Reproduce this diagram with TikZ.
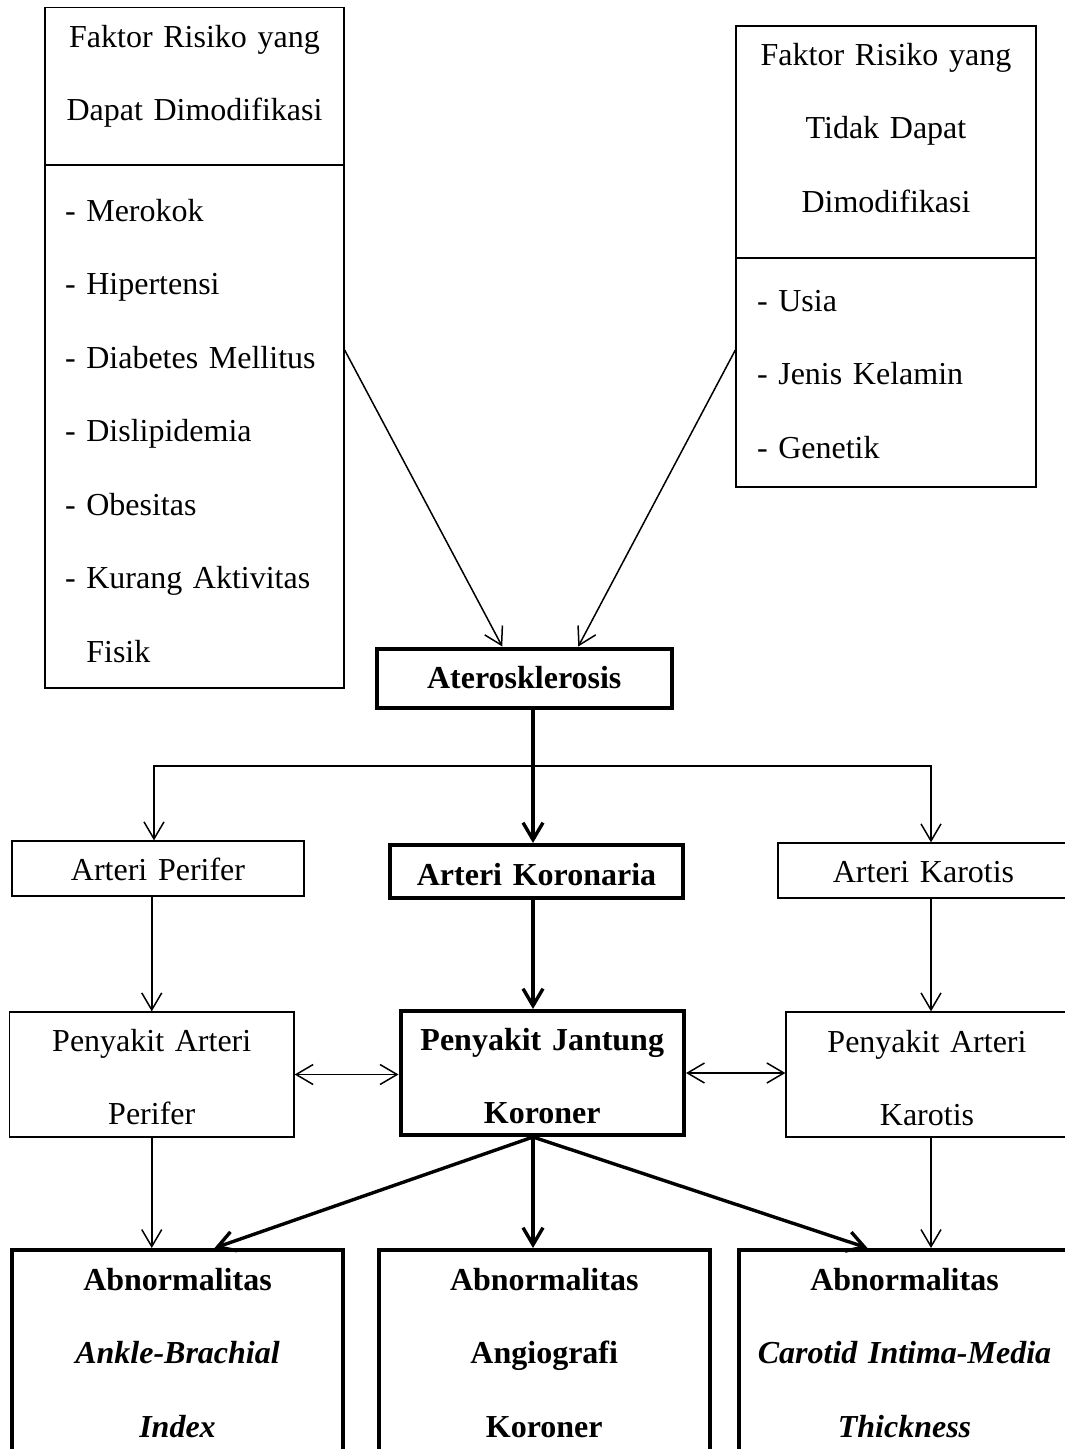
\documentclass[tikz,border=0pt]{standalone}
\usepackage{fontspec}
\setmainfont{Liberation Serif}
\usetikzlibrary{arrows.meta}
\begin{document}
\begin{tikzpicture}[x=1pt, y=-1pt,
	>={Straight Barb[length=17pt,width=20pt]},
	plainbox/.style={draw, line width=1.3pt, inner sep=0pt, align=center, font=\fontsize{32}{73.5}\selectfont},
	heavybox/.style={plainbox, line width=4pt, font=\fontsize{32}{73.5}\selectfont\bfseries},
	listbox/.style={plainbox, align=left, inner xsep=20pt},
	thinarr/.style={->, line width=1.5pt},
	thickarr/.style={->, line width=3.4pt}]
	\useasboundingbox (0,0) rectangle (1065,1449);
	\node[plainbox, text width=299pt, text height=39.5pt, text depth=118pt] (mod) at (194.5,86.25) {Faktor Risiko yang\\Dapat Dimodifikasi};
	\node[listbox, text width=259pt, text height=56pt, text depth=467pt] (modlist) at (194.5,426.5) {- Merokok\\- Hipertensi\\- Diabetes Mellitus\\- Dislipidemia\\- Obesitas\\- Kurang Aktivitas\\\phantom{- }Fisik};
	\node[plainbox, text width=300pt, text height=39pt, text depth=193pt] (nonmod) at (886,142) {Faktor Risiko yang\\Tidak Dapat\\Dimodifikasi};
	\node[listbox, inner xsep=21pt, text width=258pt, text height=53pt, text depth=176pt] (nonmodlist) at (886,372.5) {- Usia\\- Jenis Kelamin\\- Genetik};
	\node[heavybox, text width=294.5pt, text height=39.5pt, text depth=19.5pt] (ath) at (524.25,678) {Aterosklerosis};
	\node[plainbox, text width=292pt, text height=39pt, text depth=16pt] (aperifer) at (158,868.5) {Arteri Perifer};
	\node[heavybox, text width=293pt, text height=40pt, text depth=12.5pt] (koro) at (536.5,871.25) {Arteri Koronaria};
	\node[plainbox, text width=291pt, text height=39pt, text depth=16pt] (akarotis) at (923.5,870.5) {Arteri Karotis};
	\node[plainbox, text width=284.5pt, text height=39pt, text depth=86pt] (pap) at (151.75,1074.5) {Penyakit Arteri\\Perifer};
	\node[heavybox, text width=283.5pt, text height=39pt, text depth=85pt] (pjk) at (542.25,1073) {Penyakit Jantung\\Koroner};
	\node[plainbox, text width=282pt, text height=40pt, text depth=85pt] (pak) at (927,1074.5) {Penyakit Arteri\\Karotis};
	\node[heavybox, text width=331pt, text height=40pt, text depth=210pt] (abi) at (177.5,1375) {Abnormalitas\\\textit{Ankle-Brachial}\\\textit{Index}};
	\node[heavybox, text width=330.5pt, text height=40pt, text depth=210pt] (angio) at (544.25,1375) {Abnormalitas\\Angiografi\\Koroner};
	\node[heavybox, text width=331pt, text height=40pt, text depth=210pt] (cimt) at (904.5,1375) {Abnormalitas\\\textit{Carotid Intima-Media}\\\textit{Thickness}};
	\coordinate (split) at (533,766);
	\coordinate (lturn) at (154,766);
	\coordinate (rturn) at (931,766);
	\draw[thinarr] ([yshift=76.5pt]modlist.east) -- ([xshift=-22pt]ath.north);
	\draw[thinarr] ([yshift=22.5pt]nonmodlist.west) -- ([xshift=54pt]ath.north);
	\draw[thickarr] (ath.south -| split) -- (koro.north -| split);
	\draw[thinarr] (split) -| (aperifer.north -| lturn);
	\draw[thinarr] (split) -| (akarotis.north -| rturn);
	\draw[thinarr] (aperifer.south -| pap.north) -- (pap.north);
	\draw[thickarr] (koro.south -| split) -- (pjk.north -| split);
	\draw[thinarr] (akarotis.south -| rturn) -- (pak.north -| rturn);
	\draw[thinarr, <->] (pap.east) -- (pap.east -| pjk.west);
	\draw[thinarr, <->] (pjk.east) -- (pjk.east -| pak.west);
	\draw[thinarr] (pap.south) -- (abi.north -| pap.south);
	\draw[thinarr] (pak.south -| rturn) -- (cimt.north -| rturn);
	\draw[thickarr] (pjk.south -| split) -- ([xshift=37pt]abi.north);
	\draw[thickarr] (pjk.south -| split) -- (angio.north -| split);
	\draw[thickarr] (pjk.south -| split) -- ([xshift=-37pt]cimt.north);
\end{tikzpicture}
\end{document}
